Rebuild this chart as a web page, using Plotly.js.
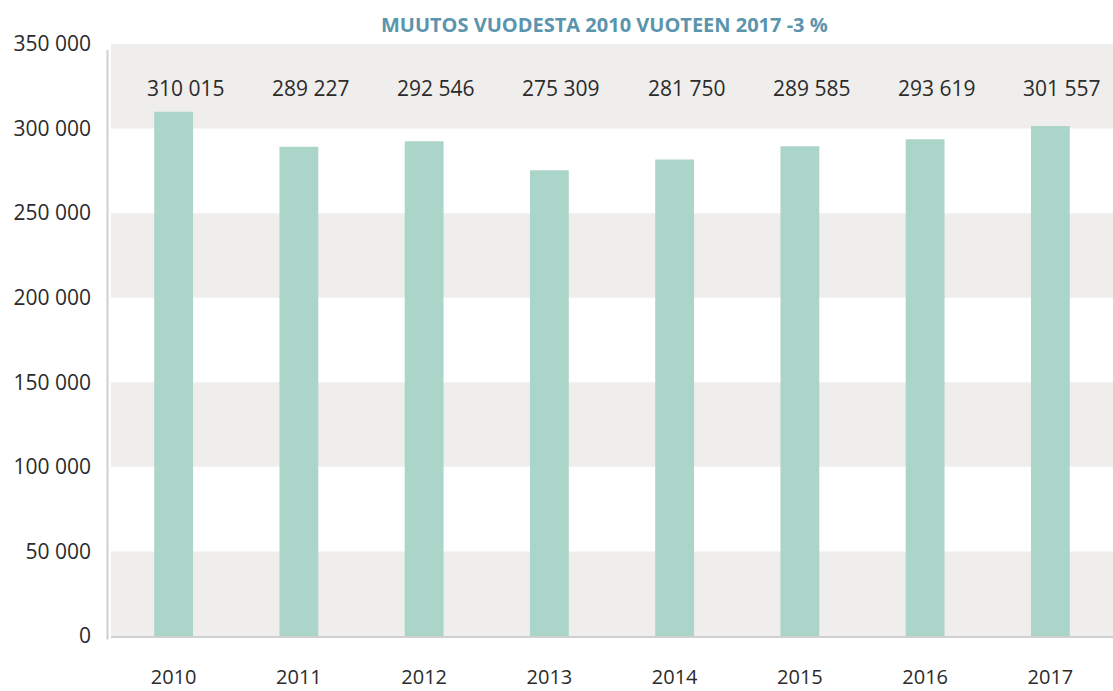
<!DOCTYPE html>
<html><head><meta charset="utf-8">
<script src="https://cdn.plot.ly/plotly-3.0.1.min.js"></script>
<style>html,body{margin:0;padding:0;background:#fff}#chart{width:1113px;height:691px}</style>
</head><body><div id="chart"></div>
<script>
const years = ["2010","2011","2012","2013","2014","2015","2016","2017"];
const values = [310015, 289227, 292546, 275309, 281750, 289585, 293619, 301557];
const yTicks = [0, 50000, 100000, 150000, 200000, 250000, 300000, 350000];
const titleText = "MUUTOS VUODESTA 2010 VUOTEEN 2017 -3 %";

function fmt(v){ return String(v).replace(/\B(?=(\d{3})+(?!\d))/g, " "); }

const bandColor = "#efeeec";
const shapes = [];
for (let i = 0; i + 1 < yTicks.length; i += 2) {
  shapes.push({type:"rect", xref:"paper", yref:"y", x0:0, x1:1, y0:yTicks[i], y1:yTicks[i+1],
    fillcolor:bandColor, line:{width:0}, layer:"below"});
}
shapes.push({type:"line", xref:"paper", yref:"paper", x0:-0.0035, x1:-0.0035, y0:-0.006, y1:0.99,
  line:{color:"#cfcfcf", width:2}});

const annotations = years.map((y,i)=>({
  x:i, xref:"x", y:0.926, yref:"paper", text:fmt(values[i]), showarrow:false,
  xshift:12, yanchor:"middle", xanchor:"center",
  font:{family:"Open Sans", size:21, color:"#2b2b2b"}
}));

const trace = {
  type:"bar", x:years, y:values,
  marker:{color:"#acd5c9", line:{width:0}},
  hoverinfo:"skip"
};

const layout = {
  width:1113, height:691,
  margin:{l:111, r:0, t:44, b:55},
  paper_bgcolor:"#ffffff", plot_bgcolor:"#ffffff",
  separators:", ",
  bargap:0.69,
  showlegend:false,
  title:{text:"<b>"+titleText+"</b>", x:0.543, xanchor:"center", y:0.964, yanchor:"middle",
    font:{family:"Open Sans", size:20, color:"#5b95ad"}},
  xaxis:{type:"category", categoryorder:"array", categoryarray:years, range:[-0.5, years.length-0.5],
    autorange:false, showgrid:false, zeroline:false, showline:true,
    linecolor:"#d0d0d0", linewidth:2, ticks:"", ticklabelstandoff:22,
    tickfont:{family:"Open Sans", size:20, color:"#2b2b2b"}},
  yaxis:{range:[0,350000], autorange:false, tickvals:yTicks, ticktext:yTicks.map(fmt), showgrid:false,
    zeroline:false, showline:false, ticks:"", ticklabelstandoff:19,
    tickfont:{family:"Open Sans", size:21, color:"#2b2b2b"}},
  shapes:shapes,
  annotations:annotations
};

Plotly.newPlot("chart", [trace], layout, {displayModeBar:false, staticPlot:true});
</script>
</body></html>
